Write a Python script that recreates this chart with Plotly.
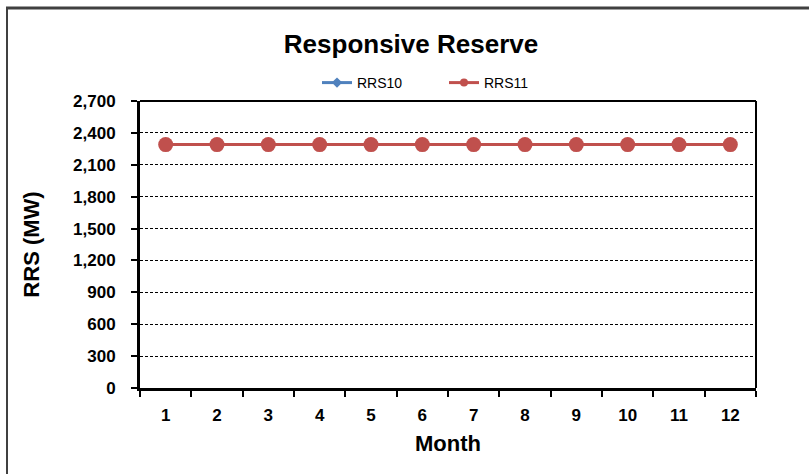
import plotly.graph_objects as go

months = list(range(1, 13))
month_labels = [str(m) for m in months]
rrs10 = [2290] * 12
rrs11 = [2290] * 12
y_ticks = [0, 300, 600, 900, 1200, 1500, 1800, 2100, 2400, 2700]
y_tick_labels = ["0", "300", "600", "900", "1,200", "1,500", "1,800", "2,100", "2,400", "2,700"]

W, H = 809, 474
L, R, T, B = 140, 756, 101, 388
BLUE, RED = "#4F81BD", "#C0504D"

fig = go.Figure()
fig.add_trace(go.Scatter(x=months, y=rrs10, name="RRS10", mode="lines+markers", showlegend=False,
                         line=dict(color=BLUE, width=3),
                         marker=dict(symbol="diamond", size=10, color=BLUE)))
fig.add_trace(go.Scatter(x=months, y=rrs11, name="RRS11", mode="lines+markers", showlegend=False,
                         line=dict(color=RED, width=3),
                         marker=dict(symbol="circle", size=15, color=RED)))
# legend entries with small markers (as in the reference legend)
fig.add_trace(go.Scatter(x=[None], y=[None], name="RRS10", mode="lines+markers",
                         line=dict(color=BLUE, width=3),
                         marker=dict(symbol="diamond", size=8, color=BLUE)))
fig.add_trace(go.Scatter(x=[None], y=[None], name="RRS11", mode="lines+markers",
                         line=dict(color=RED, width=3),
                         marker=dict(symbol="circle", size=8, color=RED)))

def px_x(p):
    return (p - L) / (R - L)

def px_y(p):
    return (B - p) / (B - T)

fig.update_layout(
    width=W, height=H,
    margin=dict(l=L, r=W - R, t=T, b=H - B, pad=0),
    paper_bgcolor="white", plot_bgcolor="white",
    font=dict(family="Liberation Sans, Arial", color="black"),
    title=dict(text="<b>Responsive Reserve</b>", x=411 / W, xanchor="center",
               y=1 - 44 / H, yanchor="middle", font=dict(size=26)),
    legend=dict(orientation="h", x=px_x(317), xanchor="left", y=px_y(83), yanchor="middle",
                font=dict(size=14), entrywidth=82, entrywidthmode="pixels",
                bgcolor="rgba(0,0,0,0)"),
    showlegend=True,
    xaxis=dict(range=[0.5, 12.5], tickvals=months, ticktext=["<b>%s</b>" % t for t in month_labels],
               ticks="", tickfont=dict(size=17),
               showline=True, linecolor="black", linewidth=3,
               showgrid=False, zeroline=False, ticklabelstandoff=10,
               minor=dict(tick0=0.5, dtick=1, ticks="outside", ticklen=6, tickwidth=2,
                          tickcolor="black", showgrid=False),
               title=dict(text="<b>Month</b>", font=dict(size=22), standoff=12)),
    yaxis=dict(range=[0, 2700], tickvals=y_ticks, ticktext=["<b>%s</b>" % t for t in y_tick_labels],
               tickfont=dict(size=17), ticks="outside", ticklen=6, tickwidth=2, tickcolor="black",
               showline=True, linecolor="black", linewidth=3,
               showgrid=True, gridcolor="black", griddash="3px,2px", gridwidth=1,
               zeroline=False, ticklabelstandoff=12,
               title=dict(text="<b>RRS (MW)</b>", font=dict(size=22), standoff=28)),
)

# top and right frame of plot area
fig.add_shape(type="line", xref="paper", yref="paper", x0=0, x1=1, y0=1, y1=1,
              line=dict(color="black", width=2))
fig.add_shape(type="line", xref="paper", yref="paper", x0=1, x1=1, y0=0, y1=1,
              line=dict(color="black", width=2))
# outer chart border (top and left)
fig.add_shape(type="line", xref="paper", yref="paper", x0=px_x(6), x1=px_x(809), y0=px_y(8), y1=px_y(8),
              line=dict(color="#404040", width=3))
fig.add_shape(type="line", xref="paper", yref="paper", x0=px_x(7), x1=px_x(7), y0=px_y(8), y1=px_y(474),
              line=dict(color="#404040", width=2))

fig.write_html("out.html", config={"displayModeBar": False},
               post_script="document.body.style.margin='0';")
